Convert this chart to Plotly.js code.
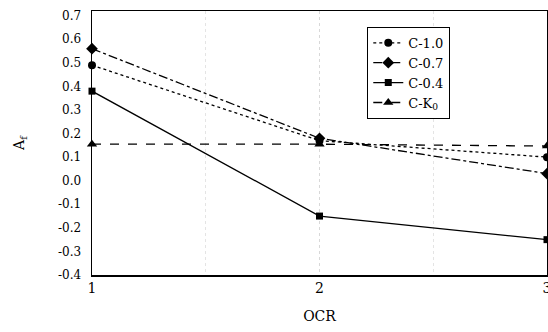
<!DOCTYPE html>
<html>
<head>
<meta charset="utf-8">
<script src="https://cdn.plot.ly/plotly-3.0.1.min.js"></script>
<style>html,body{margin:0;padding:0;overflow:hidden;background:#fff}</style>
</head>
<body>
<div id="chart" style="width:548px;height:332px"></div>
<script>
const ocr = [1, 2, 3];
const c10 = [0.49, 0.17, 0.10];
const c07 = [0.56, 0.18, 0.03];
const c04 = [0.38, -0.15, -0.25];
const cK0 = [0.155, 0.155, 0.147];
const seriesNames = ['C-1.0', 'C-0.7', 'C-0.4', 'C-K<sub>0</sub>'];
const yTickVals = [0.7, 0.6, 0.5, 0.4, 0.3, 0.2, 0.1, 0.0, -0.1, -0.2, -0.3, -0.4];
const yTickText = ['0.7', '0.6', '0.5', '0.4', '0.3', '0.2', '0.1', '0.0', '-0.1', '-0.2', '-0.3', '-0.4'];
const xTickVals = [1, 2, 3];
const xTickText = ['1', '2', '3'];

const font = 'DejaVu Serif';
function tr(y, name, dash, symbol, size) {
  return {
    x: ocr, y: y, name: name, type: 'scatter', mode: 'lines+markers',
    line: {color: '#000', width: 1.3, dash: dash},
    marker: {color: '#000', symbol: symbol, size: size},
    cliponaxis: false
  };
}
const data = [
  tr(c10, seriesNames[0], 'dot', 'circle', 8),
  tr(c07, seriesNames[1], 'dashdot', 'diamond', 9),
  tr(c04, seriesNames[2], 'solid', 'square', 7),
  tr(cK0, seriesNames[3], 'dash', 'triangle-up', 9)
];
const layout = {
  width: 548, height: 332,
  margin: {l: 92, r: 1, t: 11, b: 57},
  paper_bgcolor: '#fff', plot_bgcolor: '#fff',
  font: {family: font, size: 12, color: '#000'},
  showlegend: true,
  legend: {
    x: 0.605, y: 0.94, xanchor: 'left', yanchor: 'top',
    bgcolor: '#fff', bordercolor: '#000', borderwidth: 1,
    font: {family: font, size: 13, color: '#000'},
    tracegroupgap: 0
  },
  xaxis: {
    range: [1, 3], tickvals: xTickVals, ticktext: xTickText,
    showline: true, linecolor: '#000', linewidth: 1.5, mirror: true,
    ticks: '', zeroline: false, ticklabeloverflow: 'allow',
    showgrid: true, gridcolor: '#d8d8d8', griddash: 'dot', gridwidth: 1,
    minor: {dtick: 0.5, showgrid: true, gridcolor: '#e4e4e4', griddash: 'dot'},
    tickfont: {family: font, size: 14},
    title: {text: 'OCR', font: {family: font, size: 14}, standoff: 16}
  },
  yaxis: {
    range: [-0.4, 0.72], tickvals: yTickVals, ticktext: yTickText,
    showline: true, linecolor: '#000', linewidth: 1.5, mirror: true,
    ticks: '', zeroline: false, ticklabelstandoff: 7,
    showgrid: false,
    tickfont: {family: font, size: 12},
    title: {text: 'A<sub>f</sub>', font: {family: font, size: 14}, standoff: 30}
  }
};
Plotly.newPlot('chart', data, layout, {staticPlot: true, displayModeBar: false});
</script>
</body>
</html>
